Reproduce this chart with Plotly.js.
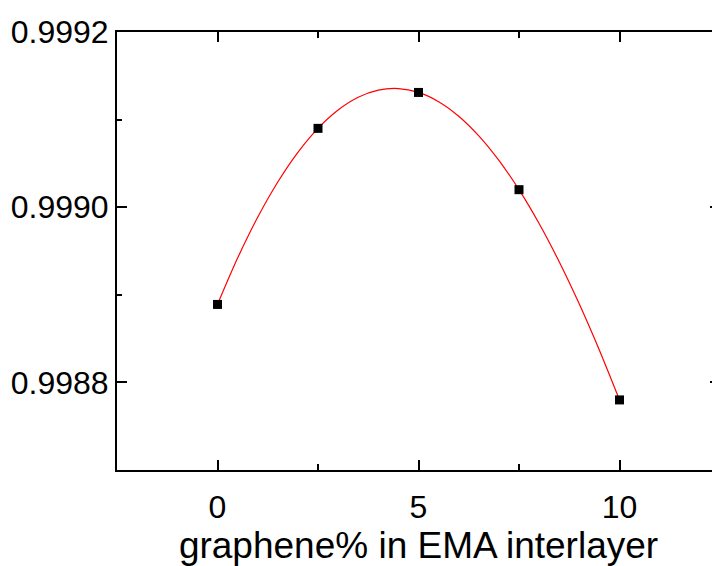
<!DOCTYPE html>
<html>
<head>
<meta charset="utf-8">
<script src="https://cdn.plot.ly/plotly-3.0.1.min.js"></script>
<style>
  html, body { margin: 0; padding: 0; overflow: hidden; background: #fff; }
  #chart { width: 722px; height: 566px; }
</style>
</head>
<body>
<div id="chart"></div>
<script>
// Measured points: graphene loading (%) vs. value
const grapheneX = [0, 2.5, 5, 7.5, 10];
const measuredY = [0.998889, 0.999090, 0.999131, 0.999020, 0.998780];

// Fitted curve, sampled along its length
const fitX = [0, 0.5, 1, 1.5, 2, 2.5, 3, 3.5, 4, 4.5, 5, 5.5, 6, 6.5, 7, 7.5, 8, 8.5, 9, 9.5, 10];
const fitY = [0.99888900, 0.99894188, 0.99898849, 0.99902874, 0.99906259, 0.99909000,
              0.99911096, 0.99912549, 0.99913362, 0.99913543, 0.99913100, 0.99912044,
              0.99910389, 0.99908150, 0.99905347, 0.99902000, 0.99898132, 0.99893769,
              0.99888938, 0.99883671, 0.99878000];

const xTitle = 'graphene% in EMA interlayer';

const fontFamily = '"Liberation Sans", Arial, Helvetica, sans-serif';

const traces = [
  {
    x: fitX, y: fitY,
    type: 'scatter', mode: 'lines',
    line: { color: '#ff0000', width: 1.2, shape: 'spline', smoothing: 0.8 },
    hoverinfo: 'skip'
  },
  {
    x: grapheneX, y: measuredY,
    type: 'scatter', mode: 'markers',
    marker: { symbol: 'square', size: 9, color: '#000000' }
  }
];

const axisCommon = {
  showline: true, linecolor: '#000', linewidth: 2,
  mirror: 'ticks', ticks: 'inside', ticklen: 10, tickwidth: 2, tickcolor: '#000',
  showgrid: false, zeroline: false,
  tickfont: { family: fontFamily, size: 32, color: '#000' }
};

const layout = {
  width: 722, height: 566,
  margin: { l: 117, r: 2, t: 32, b: 96 },
  paper_bgcolor: '#fff', plot_bgcolor: '#fff',
  showlegend: false,
  xaxis: Object.assign({}, axisCommon, {
    range: [-2.5, 12.5], tick0: 0, dtick: 5,
    minor: { dtick: 2.5, ticks: 'inside', ticklen: 6, tickwidth: 2, tickcolor: '#000', showgrid: false },
    ticklabelstandoff: 8,
    title: { text: xTitle, font: { family: fontFamily, size: 37, color: '#000' }, standoff: 4 }
  }),
  yaxis: Object.assign({}, axisCommon, {
    range: [0.9987, 0.9992], tick0: 0.9988, dtick: 0.0002, tickformat: '.4f',
    minor: { dtick: 0.0001, ticks: 'inside', ticklen: 5, tickwidth: 2, tickcolor: '#000', showgrid: false },
    ticklabelstandoff: 0
  })
};

Plotly.newPlot('chart', traces, layout, { displayModeBar: false, staticPlot: true });
</script>
</body>
</html>
